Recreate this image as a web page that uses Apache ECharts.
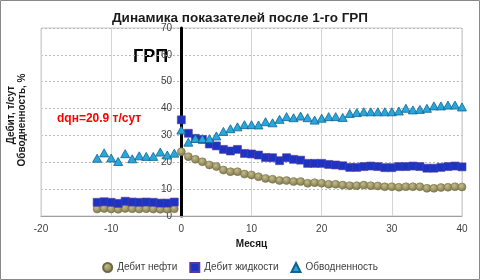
<!DOCTYPE html>
<html>
<head>
<meta charset="utf-8">
<script src="https://cdn.jsdelivr.net/npm/echarts@6/dist/echarts.min.js"></script>
<style>
  html, body { margin: 0; padding: 0; background: #fff; }
  #chart { width: 480px; height: 280px; }
</style>
</head>
<body>
<div id="chart"></div>
<script>
// месяцы относительно ГРП
var months = [-12, -11, -10, -9, -8, -7, -6, -5, -4, -3, -2, -1,
  0, 1, 2, 3, 4, 5, 6, 7, 8, 9, 10, 11, 12, 13, 14, 15, 16, 17, 18, 19, 20,
  21, 22, 23, 24, 25, 26, 27, 28, 29, 30, 31, 32, 33, 34, 35, 36, 37, 38, 39, 40];

// Дебит нефти, т/сут
var oilRate = [2.6, 2.8, 2.6, 2.5, 2.8, 2.7, 2.6, 2.7, 2.6, 2.5, 2.5, 2.7,
  23.9, 22.1, 21.1, 20.2, 19.0, 18.4, 17.1, 16.5, 16.5, 15.6, 15.3, 14.6, 14.0, 13.7, 13.2, 13.2, 12.8, 12.8, 12.2, 12.4, 12.2,
  11.8, 11.8, 11.5, 11.3, 11.3, 11.5, 11.3, 11.2, 10.9, 10.9, 10.7, 10.9, 10.9, 10.9, 10.3, 10.3, 10.6, 10.7, 10.9, 10.8];

// Дебит жидкости, т/сут
var liquidRate = [5.1, 5.3, 5.1, 4.7, 5.5, 5.2, 5.1, 5.2, 5.1, 4.8, 4.8, 5.2,
  35.8, 30.8, 28.9, 28.5, 26.8, 26.1, 24.8, 24.2, 24.8, 23.3, 23.1, 22.7, 21.8, 21.7, 20.6, 21.7, 21.1, 20.8, 19.6, 19.6, 19.6,
  19.2, 19.0, 18.7, 18.1, 18.1, 18.4, 18.6, 18.4, 18.0, 18.0, 18.4, 18.4, 18.6, 18.4, 17.8, 17.8, 18.1, 18.4, 18.6, 18.3];

// Обводненность, %
var waterCut = [21.5, 23.5, 21.6, 20.3, 23.2, 21.3, 22.4, 22.2, 22.2, 23.8, 22.7, 23.4,
  32.0, 27.5, 28.9, 28.8, 28.8, 29.8, 31.5, 32.5, 33.2, 34.0, 34.0, 33.9, 35.1, 34.7, 36.0, 37.0, 36.6, 37.2, 36.6, 35.7, 36.4,
  37.0, 37.0, 36.7, 38.2, 38.5, 38.8, 38.8, 38.8, 38.8, 38.8, 39.1, 40.1, 39.5, 39.7, 40.1, 41.0, 41.0, 41.3, 41.3, 40.6];

var xTicks = [-20, 40, 10];   // min, max, interval
var yTicks = [0, 70, 10];

function pairs(vals) {
  return months.map(function (m, i) { return [m, vals[i]]; });
}

var chart = echarts.init(document.getElementById('chart'));

var option = {
  animation: false,
  textStyle: { fontFamily: 'Liberation Sans, Arial, sans-serif' },
  title: {
    text: 'Динамика показателей после 1-го ГРП',
    left: 'center',
    top: 6,
    textStyle: { fontSize: 13.5, fontWeight: 'bold', color: '#1a1a1a' }
  },
  grid: {
    left: 41, right: 18, top: 28, bottom: 64,
    show: true, borderColor: '#c8c8c8', borderWidth: 1
  },
  legend: {
    left: 'center',
    top: 257,
    itemWidth: 9,
    itemHeight: 9,
    itemGap: 12,
    textStyle: { fontSize: 10, color: '#404040' },
    data: [
      { name: 'Дебит нефти', icon: 'circle' },
      { name: 'Дебит жидкости', icon: 'rect' },
      { name: 'Обводненность', icon: 'triangle' }
    ]
  },
  xAxis: {
    type: 'value',
    min: xTicks[0], max: xTicks[1], interval: xTicks[2],
    name: 'Месяц',
    nameLocation: 'middle',
    nameGap: 20,
    nameTextStyle: { fontSize: 10, fontWeight: 'bold', color: '#1a1a1a' },
    axisLine: { onZero: false, lineStyle: { color: '#a0a0a0' } },
    axisTick: { show: false },
    axisLabel: { fontSize: 10, color: '#404040', margin: 8 },
    splitLine: { show: true, lineStyle: { color: '#d4d4d4', type: 'solid' } }
  },
  yAxis: {
    type: 'value',
    min: yTicks[0], max: yTicks[1], interval: yTicks[2],
    offset: -140,   // ось Y проходит через месяц 0
    axisLine: { show: true, onZero: false, lineStyle: { color: '#000', width: 3 } },
    axisTick: { show: false },
    axisLabel: { fontSize: 10, color: '#404040', margin: 9 },
    splitLine: { show: true, lineStyle: { color: '#b8b8b8', type: [2, 2] } }
  },
  graphic: [
    {
      type: 'rect', silent: true, z: -1,
      shape: { x: 0.5, y: 0.5, width: 479, height: 279 },
      style: { fill: 'none', stroke: '#888', lineWidth: 1 }
    },
    {
      type: 'text', left: 133, top: 48,
      style: { text: 'ГРП', font: 'bold 18px Liberation Sans, Arial, sans-serif', fill: '#000' }
    },
    {
      type: 'text', left: 57, top: 113,
      style: { text: 'dqн=20.9 т/сут', font: 'bold 12px Liberation Sans, Arial, sans-serif', fill: '#ff0000' }
    },
    {
      type: 'text', x: 11, y: 115, rotation: Math.PI / 2,
      style: {
        text: 'Дебит, т/сут', font: 'bold 10px Liberation Sans, Arial, sans-serif',
        fill: '#1a1a1a', align: 'center', verticalAlign: 'middle'
      }
    },
    {
      type: 'text', x: 22, y: 120, rotation: Math.PI / 2,
      style: {
        text: 'Обводненность, %', font: 'bold 10px Liberation Sans, Arial, sans-serif',
        fill: '#1a1a1a', align: 'center', verticalAlign: 'middle'
      }
    }
  ],
  series: [
    {
      name: 'Дебит нефти',
      type: 'scatter',
      symbol: 'circle',
      symbolSize: 8,
      itemStyle: {
        color: {
          type: 'radial', x: 0.4, y: 0.35, r: 0.7,
          colorStops: [{ offset: 0, color: '#c4bc8a' }, { offset: 1, color: '#7a7348' }]
        },
        borderColor: '#6f6940', borderWidth: 0.5, opacity: 1
      },
      data: pairs(oilRate)
    },
    {
      name: 'Дебит жидкости',
      type: 'scatter',
      symbol: 'rect',
      symbolSize: 8,
      itemStyle: { color: '#1c34c4', borderColor: '#5a3a9c', borderWidth: 0.6, opacity: 1 },
      data: pairs(liquidRate)
    },
    {
      name: 'Обводненность',
      type: 'scatter',
      symbol: 'triangle',
      symbolSize: [9, 8],
      itemStyle: { color: '#27a8dc', borderColor: '#11628e', borderWidth: 0.8, opacity: 1 },
      data: pairs(waterCut)
    }
  ]
};

chart.setOption(option);
</script>
</body>
</html>
